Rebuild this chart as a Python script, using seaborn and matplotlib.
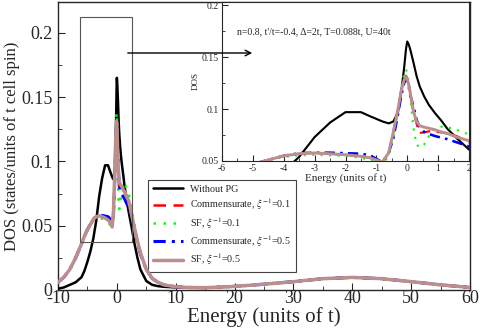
import numpy as np
import pandas as pd
import matplotlib
matplotlib.use('Agg')
import matplotlib.pyplot as plt
from matplotlib.patches import Rectangle
from matplotlib.ticker import MultipleLocator
import seaborn as sns

# energy grid (units of t)
energy = [-10, -9, -8, -7, -6, -5.5, -5, -4.5, -4, -3.5, -3, -2.5, -2, -1.5, -1.2, -1.0,
          -0.8, -0.6, -0.45, -0.3, -0.2, -0.1, -0.04, 0.0, 0.05, 0.1, 0.2, 0.3, 0.4, 0.55,
          0.7, 0.9, 1.1, 1.3, 1.6, 2.0, 2.5, 3.0, 3.5, 4.0, 5.0, 6.0, 7.0, 8.0, 10, 12,
          15, 20, 25, 30, 35, 40, 45, 50, 55, 60]

without_pg = [0.001, 0.002, 0.004, 0.006, 0.010, 0.015, 0.022, 0.030, 0.040, 0.054, 0.073, 0.087,
              0.097, 0.097, 0.093, 0.0905, 0.088, 0.0862, 0.088, 0.097, 0.115, 0.140, 0.158, 0.165,
              0.162, 0.157, 0.145, 0.132, 0.122, 0.112, 0.104, 0.096, 0.089, 0.081, 0.072, 0.061,
              0.049, 0.036, 0.025, 0.016, 0.007, 0.004, 0.003, 0.0025, 0.002, 0.0017, 0.0017,
              0.0028, 0.0045, 0.0065, 0.0088, 0.0098, 0.0088, 0.0065, 0.004, 0.002]

comm_01 = [0.006, 0.010, 0.016, 0.025, 0.036, 0.042, 0.047, 0.051, 0.055, 0.057, 0.0577, 0.057,
           0.056, 0.0545, 0.053, 0.051, 0.049, 0.058, 0.078, 0.100, 0.117, 0.128, 0.132, 0.130,
           0.124, 0.115, 0.097, 0.086, 0.077, 0.0775, 0.0786, 0.078, 0.0775, 0.0765, 0.074, 0.068,
           0.058, 0.048, 0.038, 0.029, 0.016, 0.009, 0.006, 0.004, 0.0025, 0.002, 0.0018,
           0.0028, 0.0045, 0.0065, 0.0088, 0.0098, 0.0088, 0.0065, 0.004, 0.002]

sf_01 = [0.006, 0.010, 0.016, 0.025, 0.036, 0.042, 0.047, 0.051, 0.054, 0.0555, 0.056, 0.0555,
         0.055, 0.053, 0.051, 0.049, 0.047, 0.055, 0.072, 0.098, 0.120, 0.134, 0.138, 0.135,
         0.125, 0.110, 0.082, 0.066, 0.063, 0.066, 0.074, 0.081, 0.083, 0.0825, 0.080, 0.0755,
         0.063, 0.051, 0.039, 0.029, 0.016, 0.009, 0.006, 0.004, 0.0025, 0.002, 0.0018,
         0.0028, 0.0045, 0.0065, 0.0088, 0.0098, 0.0088, 0.0065, 0.004, 0.002]

comm_05 = [0.006, 0.010, 0.016, 0.025, 0.036, 0.042, 0.047, 0.051, 0.055, 0.0575, 0.058, 0.058,
           0.0575, 0.057, 0.0555, 0.052, 0.049, 0.058, 0.072, 0.095, 0.112, 0.125, 0.129, 0.127,
           0.121, 0.113, 0.103, 0.090, 0.082, 0.078, 0.076, 0.074, 0.0725, 0.071, 0.068, 0.064,
           0.056, 0.047, 0.037, 0.028, 0.016, 0.009, 0.006, 0.004, 0.0025, 0.002, 0.0018,
           0.0028, 0.0045, 0.0065, 0.0088, 0.0098, 0.0088, 0.0065, 0.004, 0.002]

sf_05 = [0.006, 0.010, 0.016, 0.025, 0.036, 0.042, 0.047, 0.051, 0.055, 0.057, 0.0577, 0.057,
         0.056, 0.0545, 0.053, 0.051, 0.049, 0.058, 0.078, 0.100, 0.117, 0.128, 0.131, 0.129,
         0.123, 0.115, 0.098, 0.088, 0.084, 0.0825, 0.0815, 0.080, 0.078, 0.0765, 0.073, 0.0695,
         0.059, 0.048, 0.038, 0.029, 0.016, 0.009, 0.006, 0.004, 0.0025, 0.002, 0.0018,
         0.0028, 0.0045, 0.0065, 0.0088, 0.0098, 0.0088, 0.0065, 0.004, 0.002]

labels = ['Without PG', 'Commensurate, $\\xi^{-1}$=0.1', 'SF, $\\xi^{-1}$=0.1',
          'Commensurate, $\\xi^{-1}$=0.5', 'SF, $\\xi^{-1}$=0.5']
series = [without_pg, comm_01, sf_01, comm_05, sf_05]
colors = ['black', '#ff0000', '#00ff00', '#0000ff', '#bc8f8f']
styles = ['-', (0, (5, 3)), (0, (1, 3)), (0, (4, 2, 1, 2)), '-']
widths = [1.8, 1.8, 1.8, 2.2, 2.5]
draw_order = [0, 4, 1, 3, 2]

sns.set_style('ticks')
plt.rcParams['font.family'] = ['Liberation Serif', 'DejaVu Serif']
plt.rcParams['mathtext.fontset'] = 'stix'
plt.rcParams['axes.unicode_minus'] = False

fig = plt.figure(figsize=(4.8, 3.32), dpi=100)
ax = fig.add_axes([58 / 480, 42 / 332, 412 / 480, 288 / 332])
ins = fig.add_axes([222 / 480, 171 / 332, 247 / 480, 159 / 332])
ins.set_zorder(5)


def draw(axis, legend, scale=1.0):
    for i in draw_order:
        df = pd.DataFrame({'E': energy, 'DOS': series[i]})
        sns.lineplot(data=df, x='E', y='DOS', ax=axis, color=colors[i], linestyle=styles[i],
                     linewidth=widths[i] * scale, label=labels[i] if legend else None,
                     zorder=3 + i)


draw(ax, True)
ax.set_xlim(-10, 60)
ax.set_ylim(0, 0.224)
ax.xaxis.set_major_locator(MultipleLocator(10))
ax.xaxis.set_minor_locator(MultipleLocator(5))
ax.yaxis.set_major_locator(MultipleLocator(0.05))
ax.yaxis.set_minor_locator(MultipleLocator(0.025))
ax.set_yticks([0, 0.05, 0.1, 0.15, 0.2])
ax.set_yticklabels(['0', '0.05', '0.1', '0.15', '0.2'])
ax.tick_params(direction='in', which='both', labelsize=13)
ax.tick_params(axis='x', pad=0)
ax.tick_params(axis='y', pad=4)
ax.tick_params(which='major', length=5)
ax.tick_params(which='minor', length=3)
ax.set_xlabel('Energy (units of t)', fontsize=15, labelpad=0)
ax.set_ylabel('DOS (states/units of t cell spin)', fontsize=12, labelpad=1)
for s in ax.spines.values():
    s.set_linewidth(1.0)

ax.add_patch(Rectangle((-6.27, 0.0376), 8.87, 0.1744, fill=False, edgecolor='#555555',
                       linewidth=0.8, zorder=10))

handles, labs = ax.get_legend_handles_labels()
order = [labs.index(l) for l in labels]
leg = ax.legend([handles[k] for k in order], [labs[k] for k in order],
                loc='lower left', bbox_to_anchor=(0.207, 0.045), fontsize=7.3,
                frameon=True, fancybox=False, edgecolor='#444444', framealpha=1,
                handlelength=3.0, handletextpad=0.7, borderpad=0.45, labelspacing=0.28)
leg.get_frame().set_linewidth(0.8)

draw(ins, False, 0.85)
ins.set_xlim(-6, 2)
ins.set_ylim(0.05, 0.203)
ins.xaxis.set_major_locator(MultipleLocator(1))
ins.xaxis.set_minor_locator(MultipleLocator(0.5))
ins.yaxis.set_major_locator(MultipleLocator(0.05))
ins.yaxis.set_minor_locator(MultipleLocator(0.025))
ins.set_yticks([0.05, 0.1, 0.15, 0.2])
ins.set_yticklabels(['0.05', '0.1', '0.15', '0.2'])
ins.tick_params(direction='in', which='both', labelsize=7, pad=2)
ins.tick_params(which='major', length=4)
ins.tick_params(which='minor', length=2)
ins.set_xlabel('Energy (units of t)', fontsize=8, labelpad=0)
ins.set_ylabel('DOS', fontsize=6.5, labelpad=2)
ins.text(0.06, 0.80, "n=0.8, t'/t=-0.4, \u0394=2t, T=0.088t, U=40t", transform=ins.transAxes,
         fontsize=7)
ins.set_facecolor('white')

ins.annotate('', xy=(255 / 480, 1 - 53 / 332), xycoords='figure fraction',
             xytext=(125 / 480, 1 - 53 / 332), textcoords='figure fraction',
             arrowprops=dict(arrowstyle='->', color='black', lw=1.0))

fig.savefig('out.png', dpi=100)
plt.close('all')
